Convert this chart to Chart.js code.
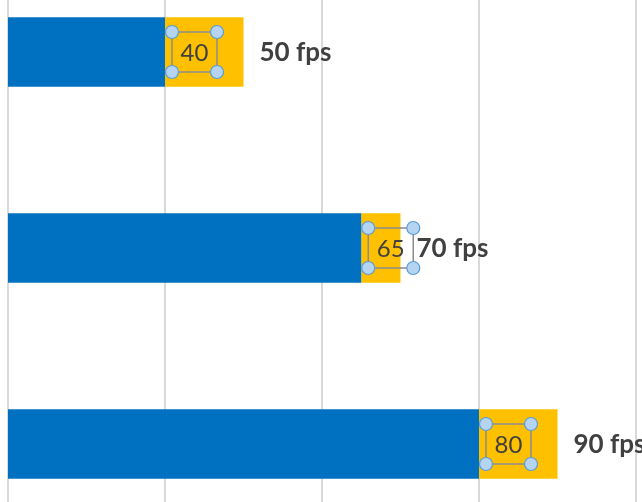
<!DOCTYPE html>
<html>
<head>
<meta charset="utf-8">
<script src="https://cdn.jsdelivr.net/npm/chart.js@4"></script>
<style>
  html, body { margin: 0; padding: 0; background: #fff; overflow: hidden; }
  #wrap { position: relative; width: 642px; height: 502px; overflow: hidden; }
  #chart { position: absolute; left: 0; top: -46px; }
</style>
</head>
<body>
<div id="wrap"><canvas id="chart" width="642" height="588"></canvas></div>
<script>
const categories = ["A", "B", "C"];
const blueValues = [40, 65, 80];
const gapValues = [10, 5, 10];
const fpsLabels = ["50 fps", "70 fps", "90 fps"];

const BLUE = "#0070C0";
const GOLD = "#FFC000";
const TEXT = "#404040";

// data labels with the little excel selection box, plus the fps text
const labelPlugin = {
   id: "labels",
   afterDatasetsDraw(chart) {
      const ctx = chart.ctx;
      const gap = chart.getDatasetMeta(1).data;
      gap.forEach((bar, i) => {
         const x0 = bar.base;
         const y = bar.y;
         const bx = x0 + 7, by = y - 20, bw = 45, bh = 40;

         ctx.save();
         ctx.fillStyle = TEXT;
         ctx.font = "24px Lato";
         ctx.textAlign = "center";
         ctx.textBaseline = "middle";
         ctx.fillText(String(blueValues[i]), bx + bw / 2, y + 1);

         ctx.strokeStyle = "#8c8c8c";
         ctx.lineWidth = 1.5;
         ctx.strokeRect(bx, by, bw, bh);
         [[bx, by], [bx + bw, by], [bx, by + bh], [bx + bw, by + bh]].forEach(p => {
            ctx.beginPath();
            ctx.arc(p[0], p[1], 6.5, 0, Math.PI * 2);
            ctx.fillStyle = "#b4d4f2";
            ctx.fill();
            ctx.strokeStyle = "#5b9bd5";
            ctx.lineWidth = 1.2;
            ctx.stroke();
         });

         ctx.fillStyle = TEXT;
         ctx.font = "bold 26px Lato";
         ctx.textAlign = "left";
         ctx.fillText(fpsLabels[i], bar.x + 16, y + 1);
         ctx.restore();
      });
   }
};

new Chart("chart", {
   type: "bar",
   data: {
      labels: categories,
      datasets: [
         { data: blueValues, backgroundColor: BLUE, categoryPercentage: 1, barPercentage: 0.355 },
         { data: gapValues, backgroundColor: GOLD, categoryPercentage: 1, barPercentage: 0.355 }
      ]
   },
   options: {
      indexAxis: "y",
      responsive: false,
      animation: false,
      layout: { padding: { left: 8, right: 6, top: 0, bottom: 0 } },
      plugins: { legend: { display: false }, tooltip: { enabled: false } },
      scales: {
         x: {
            stacked: true,
            min: 20,
            max: 100,
            ticks: { display: false, stepSize: 20 },
            grid: { color: "#d9d9d9", lineWidth: 2, drawTicks: false },
            border: { display: false }
         },
         y: {
            stacked: true,
            display: false
         }
      }
   },
   plugins: [labelPlugin]
});
</script>
</body>
</html>
